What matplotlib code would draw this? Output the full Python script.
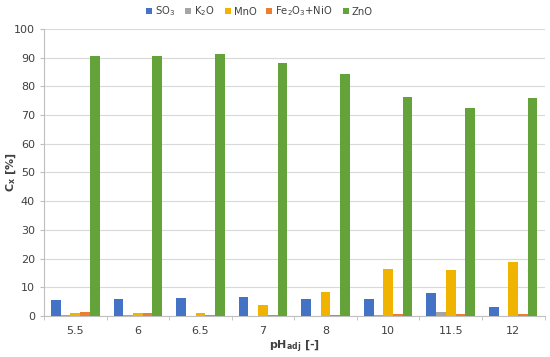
import numpy as np
import matplotlib.pyplot as plt

ph = ['5.5', '6', '6.5', '7', '8', '10', '11.5', '12']
so3 = [5.5, 6.0, 6.3, 6.5, 5.8, 5.8, 8.1, 3.2]
k2o = [0.2, 0.2, 0.1, 0.1, 0.1, 0.2, 1.4, 0.1]
mno = [1.1, 0.9, 1.1, 3.9, 8.5, 16.5, 16.0, 18.7]
fe_ni = [1.5, 1.1, 0.4, 0.5, 0.4, 0.6, 0.8, 0.6]
zno = [90.5, 90.7, 91.3, 88.1, 84.2, 76.3, 72.6, 76.0]

series = [('SO$_3$', so3, '#4472C4'), ('K$_2$O', k2o, '#A5A5A5'),
          ('MnO', mno, '#F0B400'), ('Fe$_2$O$_3$+NiO', fe_ni, '#ED7D31'),
          ('ZnO', zno, '#64A33A')]

fig = plt.figure(figsize=(5.5, 3.57), dpi=100)
ax = fig.add_axes([0.08, 0.115, 0.91, 0.804])

x = np.arange(len(ph))
w = 0.155
for i, (name, vals, col) in enumerate(series):
    ax.bar(x + (i - 2) * w, vals, w, color=col, label=name, zorder=3)

ax.set_ylim(0, 100)
ax.set_xlim(-0.5, len(ph) - 0.5)
ax.set_yticks(range(0, 101, 10))
ax.yaxis.grid(True, color='#D9D9D9', linewidth=0.8, zorder=0)
ax.set_xticks(x)
ax.set_xticklabels(ph)
ax.set_xticks(np.arange(-0.5, len(ph)), minor=True)
ax.tick_params(axis='x', which='major', length=0, labelsize=8, colors='#404040', pad=7)
ax.tick_params(axis='x', which='minor', length=3, color='#BFBFBF')
ax.tick_params(axis='y', length=3, color='#BFBFBF', labelsize=8, labelcolor='#404040')
for s in ['top', 'right']:
    ax.spines[s].set_visible(False)
for s in ['left', 'bottom']:
    ax.spines[s].set_color('#BFBFBF')

ax.set_ylabel('C$_\\mathregular{x}$ [%]', fontsize=8, fontweight='bold', color='#404040')
ax.yaxis.set_label_coords(-0.052, 0.5)
ax.set_xlabel('pH$_{\\mathregular{adj}}$ [-]', fontsize=8, fontweight='bold', color='#404040', labelpad=2)

ax.legend(loc='lower center', bbox_to_anchor=(0.43, 1.005), ncol=5, frameon=False,
          fontsize=7.2, handlelength=0.6, handleheight=0.6, columnspacing=1.0,
          handletextpad=0.3, labelcolor='#404040')

fig.savefig('out.png', dpi=100)
